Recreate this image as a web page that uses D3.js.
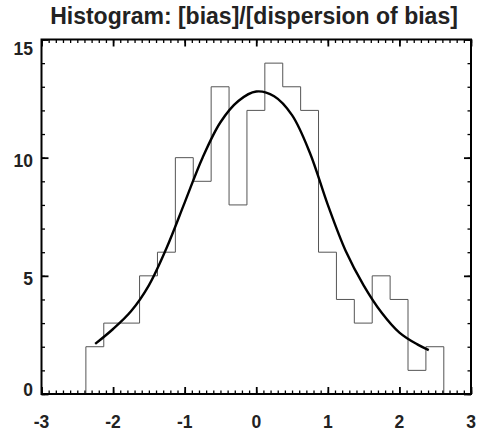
<!DOCTYPE html>
<html>
<head>
<meta charset="utf-8">
<script src="https://cdn.jsdelivr.net/npm/d3@7"></script>
<style>
  body { margin: 0; background: #fff; }
  text { font-family: "Liberation Sans", Arial, Helvetica, sans-serif; font-weight: bold; fill: #222; }
</style>
</head>
<body>
<div id="chart"></div>
<script>
// histogram bin edges (21 edges -> 20 bins) and counts
var binEdges = [-2.38, -2.13, -1.88, -1.63, -1.38, -1.13, -0.88, -0.63, -0.38, -0.13,
                0.12, 0.37, 0.62, 0.87, 1.12, 1.37, 1.62, 1.87, 2.12, 2.37, 2.62];
var counts = [2, 3, 3, 5, 6, 10, 9, 13, 8, 12, 14, 13, 12, 6, 4, 3, 5, 4, 1, 2];

// fitted curve
var fitX = [-2.25, -2.0, -1.75, -1.5, -1.25, -1.0, -0.75, -0.5, -0.25, 0,
            0.25, 0.5, 0.75, 1.0, 1.25, 1.5, 1.75, 2.0, 2.25, 2.41];
var fitY = [2.12, 2.75, 3.5, 4.6, 6.2, 8.1, 10.0, 11.5, 12.4, 12.8,
            12.6, 11.8, 10.2, 8.0, 6.05, 4.6, 3.45, 2.6, 2.1, 1.86];

var xTicks = [-3, -2, -1, 0, 1, 2, 3];
var yTicks = [0, 5, 10, 15];
var title = "Histogram: [bias]/[dispersion of bias]";

var svgWidth = 481;
var svgHeight = 430;
var margin = { top: 39.5, right: 10, bottom: 36, left: 41.5 };
var width = svgWidth - margin.left - margin.right;
var height = svgHeight - margin.top - margin.bottom;

var svg = d3.select("#chart").append("svg")
    .attr("width", svgWidth)
    .attr("height", svgHeight);

var chartGroup = svg.append("g")
    .attr("transform", `translate(${margin.left}, ${margin.top})`);

var xScale = d3.scaleLinear().domain([-3, 3]).range([0, width]);
var yScale = d3.scaleLinear().domain([0, 15]).range([height, 0]);

// step outline of the histogram
var steps = [];
counts.forEach(function(c, i) {
    steps.push([binEdges[i], c]);
    steps.push([binEdges[i + 1], c]);
});
steps.unshift([binEdges[0], 0]);
steps.push([binEdges[binEdges.length - 1], 0]);

chartGroup.append("path")
    .datum(steps)
    .attr("fill", "none")
    .attr("stroke", "#555")
    .attr("stroke-width", 1)
    .attr("d", d3.line().x(d => xScale(d[0])).y(d => yScale(d[1])));

// fit curve
var fitPts = fitX.map((x, i) => [x, fitY[i]]);
chartGroup.append("path")
    .datum(fitPts)
    .attr("fill", "none")
    .attr("stroke", "#000")
    .attr("stroke-width", 2.4)
    .attr("d", d3.line().curve(d3.curveCatmullRom)
        .x(d => xScale(d[0])).y(d => yScale(d[1])));

// ticks on all four sides, pointing inward
var xMinor = d3.range(-30, 31).map(d => d / 10);
var yMinor = d3.range(0, 16);

function drawAxis(axis, translate, major, minor) {
    var gMinor = chartGroup.append("g").attr("transform", translate)
        .call(axis.tickValues(minor).tickSize(-3.5).tickFormat(""));
    gMinor.select(".domain").remove();
    gMinor.selectAll("line").attr("stroke", "#000").attr("stroke-width", 1.3);
    var gMajor = chartGroup.append("g").attr("transform", translate)
        .call(axis.tickValues(major).tickSize(-7).tickFormat(""));
    gMajor.select(".domain").remove();
    gMajor.selectAll("line").attr("stroke", "#000").attr("stroke-width", 1.8);
}
drawAxis(d3.axisBottom(xScale), `translate(0, ${height})`, xTicks, xMinor);
drawAxis(d3.axisTop(xScale), "translate(0, 0)", xTicks, xMinor);
drawAxis(d3.axisLeft(yScale), "translate(0, 0)", yTicks, yMinor);
drawAxis(d3.axisRight(yScale), `translate(${width}, 0)`, yTicks, yMinor);

// box
chartGroup.append("rect")
    .attr("width", width)
    .attr("height", height)
    .attr("fill", "none")
    .attr("stroke", "#000")
    .attr("stroke-width", 2);

// tick labels
chartGroup.selectAll(".xlabel").data(xTicks).enter().append("text")
    .attr("class", "xlabel")
    .attr("x", d => xScale(d))
    .attr("y", height + 33.5)
    .attr("text-anchor", "middle")
    .style("font-size", "17.5px")
    .text(d => d);

chartGroup.selectAll(".ylabel").data(yTicks).enter().append("text")
    .attr("class", "ylabel")
    .attr("x", -8.5)
    .attr("y", function(d) {
        var y = yScale(d) + 9.5;
        if (d === 0) y -= 8;
        if (d === 15) y += 6;
        return y;
    })
    .attr("text-anchor", "end")
    .style("font-size", "17.5px")
    .text(d => d);

// title
svg.append("text")
    .attr("x", 254)
    .attr("y", 24)
    .attr("text-anchor", "middle")
    .style("font-size", "23px")
    .text(title);
</script>
</body>
</html>
